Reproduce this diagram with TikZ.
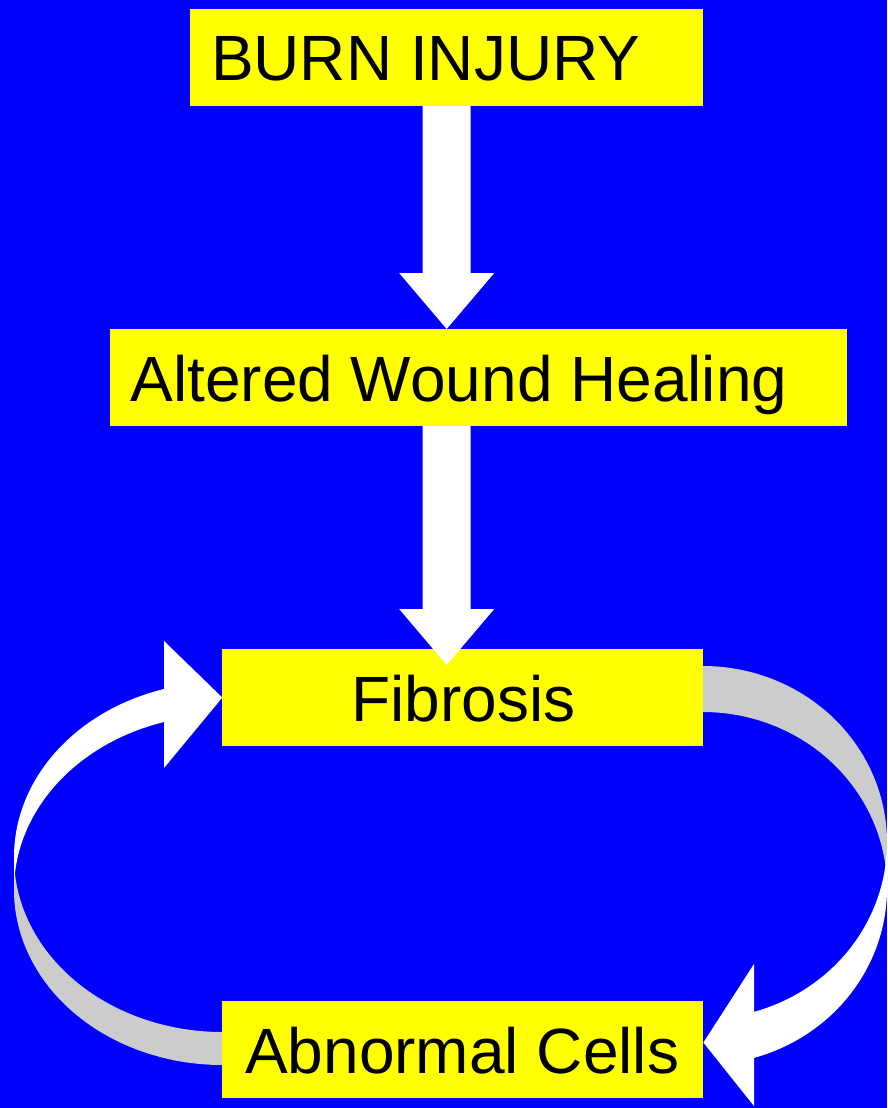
\documentclass[tikz,border=0pt]{standalone}
\usepackage{fontspec}
\setmainfont{Liberation Sans}
\usetikzlibrary{calc}
\definecolor{bgblue}{RGB}{0,0,255}
\definecolor{boxyellow}{RGB}{255,255,0}
\definecolor{backgrey}{RGB}{204,204,204}
\newcommand\fatdown[2]{%
  \fill[white] ($(#1)+(-24,0)$) -- ($(#2)+(-24,-56)$) -- ($(#2)+(-47.5,-56)$) -- (#2)
    -- ($(#2)+(47.5,-56)$) -- ($(#2)+(24,-56)$) -- ($(#1)+(24,0)$) -- cycle;}
\begin{document}
\begin{tikzpicture}[x=1pt,y=-1pt,
  box/.style={fill=boxyellow, draw=none, minimum width=#1pt, minimum height=96.7pt,
              inner sep=0pt, anchor=north west},
  lbl/.style={font=\fontsize{64}{76}\selectfont, inner sep=0pt, anchor=base, text=black},
  samples=60]
\useasboundingbox (0,0) rectangle (887,1108);
\fill[bgblue] (0,0) rectangle (887,1108);

% boxes
\node[box=513]   (burn)     at (190,9)      {};
\node[box=737]   (altered)  at (110,329)    {};
\node[box=480.7] (fibrosis) at (222.3,649)  {};
\node[box=480.7] (abnormal) at (222.3,1001) {};

% curved loop arrows: shaded back parts
\fill[backgrey] plot[domain=180:90] ({222.3+208.3*cos(\x)},{857+175*sin(\x)})
  -- plot[domain=90:180] ({222.3+208.3*cos(\x)},{890+175*sin(\x)}) -- cycle;
\fill[backgrey] plot[domain=270:360] ({703+184*cos(\x)},{842.4+176.4*sin(\x)})
  -- plot[domain=360:270] ({703+184*cos(\x)},{888.4+176.4*sin(\x)}) -- cycle;

% curved loop arrows: front parts with heads
\coordinate (tipL) at (fibrosis.west);
\coordinate (tipR) at ($(abnormal.east)+(0,-7)$);
\fill[white] plot[domain=180:253.8] ({222.3+208.3*cos(\x)},{857+175*sin(\x)})
  -- (164,641) -- (tipL) -- (164,768)
  -- plot[domain=253.8:180] ({222.3+208.3*cos(\x)},{890+175*sin(\x)}) -- cycle;
\fill[white] plot[domain=0:73.9] ({703+184*cos(\x)},{842.4+176.4*sin(\x)})
  -- (754,964) -- (tipR) -- (754,1106)
  -- plot[domain=73.9:0] ({703+184*cos(\x)},{888.4+176.4*sin(\x)}) -- cycle;

% box redraw over grey ends
\fill[boxyellow] (fibrosis.north west) rectangle (fibrosis.south east);
\fill[boxyellow] (abnormal.north west) rectangle (abnormal.south east);

% labels
\node[lbl] (tburn)     at (425.6,81)    {BURN INJURY};
\node[lbl] (taltered)  at (459,401)     {Altered Wound Healing};
\node[lbl] (tfibrosis) at (463.6,721)   {Fibrosis};
\node[lbl] (tabnormal) at (462.2,1073.3) {Abnormal Cells};

% straight arrows
\coordinate (tip1) at (burn.south |- altered.north);
\coordinate (start2) at (burn.south |- altered.south);
\coordinate (tip2) at ($(burn.south |- fibrosis.north)+(0,16)$);
\fatdown{burn.south}{tip1}
\fatdown{start2}{tip2}
\end{tikzpicture}
\end{document}
